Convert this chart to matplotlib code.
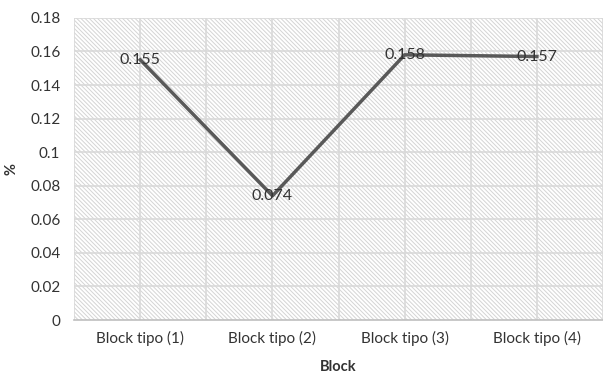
import matplotlib.pyplot as plt
from matplotlib.patches import Rectangle

blocks = ['Block tipo (1)', 'Block tipo (2)', 'Block tipo (3)', 'Block tipo (4)']
values = [0.155, 0.074, 0.158, 0.157]

plt.rcParams['font.family'] = ['Lato', 'DejaVu Sans']
plt.rcParams['hatch.linewidth'] = 0.7

fig = plt.figure(figsize=(6.03, 3.81), dpi=100)
ax = fig.add_axes([0.123, 0.160, 0.877, 0.793])

x = list(range(len(blocks)))
ax.set_xlim(-0.5, len(blocks) - 0.5)
ax.set_ylim(0, 0.18)

# hatched plot area background
ax.add_patch(Rectangle((0, 0), 1, 1, transform=ax.transAxes, facecolor='white',
                       edgecolor='#d4d4d4', linewidth=0, hatch='\\' * 8, zorder=0))

# grid: horizontal every 0.02, vertical at category centres and boundaries
yt = [i * 0.02 for i in range(10)]
for y in yt[1:]:
    ax.axhline(y, color='#d9d9d9', lw=1.2, zorder=1)
for i in range(len(blocks) * 2 + 1):
    ax.axvline(-0.5 + i * 0.5, color='#d9d9d9', lw=1.2, zorder=1)

ax.plot(x, values, color='#595959', lw=2.5, zorder=3)
for xi, v in zip(x, values):
    ax.text(xi, v, '{:.3f}'.format(v), ha='center', va='center',
            fontsize=11.5, color='#333333', zorder=4)

ax.set_xticks(x)
ax.set_xticklabels(blocks)
ax.set_yticks(yt)
ax.set_yticklabels(['0'] + ['{:g}'.format(round(y, 2)) for y in yt[1:]])
ax.tick_params(length=0, labelsize=11, colors='#333333', pad=8)
ax.tick_params(axis='y', pad=10)

for s in ['top', 'right', 'left']:
    ax.spines[s].set_visible(False)
ax.spines['bottom'].set_color('#bfbfbf')
ax.spines['bottom'].set_linewidth(1.2)

ax.set_xlabel('Block', fontsize=10.5, fontweight='bold', color='#333333', labelpad=10)
ax.set_ylabel('%', fontsize=10.5, fontweight='bold', color='#333333', labelpad=8)

fig.savefig('out.png', dpi=100)
